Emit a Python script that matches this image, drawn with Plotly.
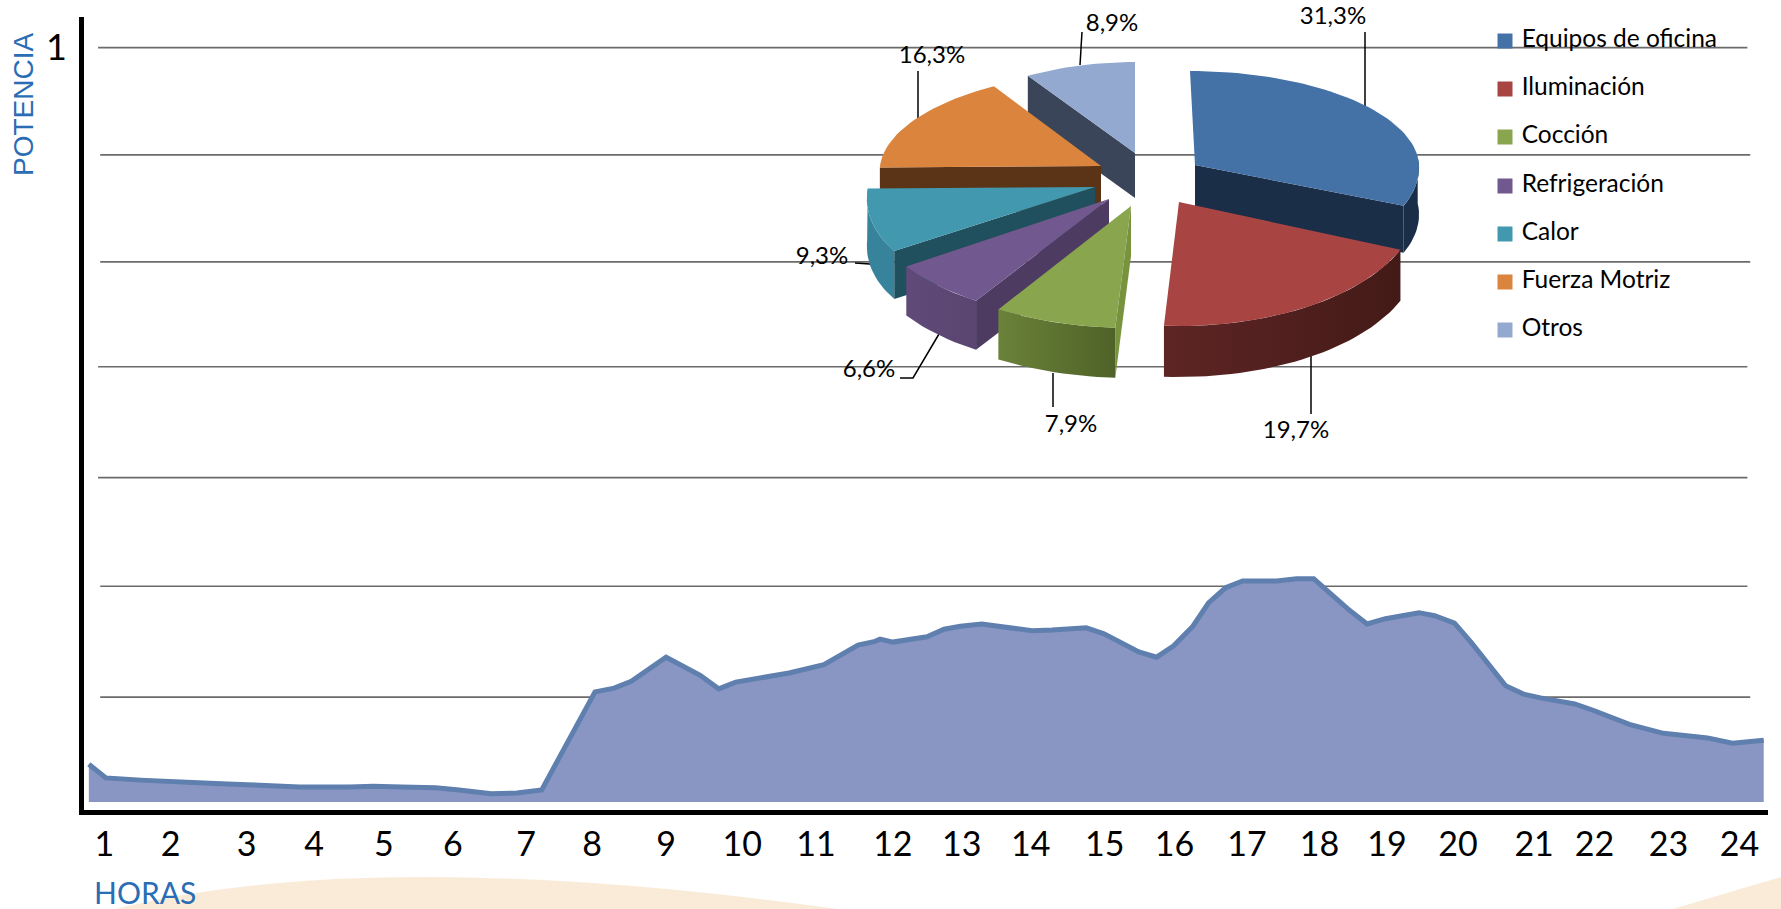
import math
import plotly.graph_objects as go

# ---------- data ----------
pie_names = ["Equipos de oficina", "Iluminación", "Cocción", "Refrigeración", "Calor", "Fuerza Motriz", "Otros"]
pie_values = [31.3, 19.7, 7.9, 6.6, 9.3, 16.3, 8.9]

hours = [0.78, 1.02, 1.51, 1.86, 2.48, 3.00, 3.74, 4.45, 4.78, 5.18, 5.66, 5.99, 6.44, 6.80, 7.15,
         7.90, 8.17, 8.41, 8.90, 9.38, 9.64, 9.88, 10.11, 10.35, 10.63, 11.12, 11.40, 11.60, 11.84,
         11.91, 12.09, 12.31, 12.57, 12.81, 13.04, 13.34, 13.81, 14.05, 14.33, 14.81, 15.06, 15.27,
         15.55, 15.80, 16.04, 16.31, 16.53, 16.77, 17.01, 17.24, 17.49, 17.77, 18.01, 18.25, 18.49,
         18.76, 19.02, 19.49, 19.71, 19.99, 20.23, 20.71, 20.96, 21.20, 21.44, 21.68, 21.93, 22.45,
         22.93, 23.55, 23.90, 24.34]
power = [.050, .032, .029, .027, .025, .023, .020, .020, .021, .020, .019, .016, .011, .012, .016,
         .146, .151, .160, .192, .168, .150, .159, .163, .167, .171, .182, .198, .208, .213,
         .216, .212, .215, .219, .229, .233, .236, .231, .227, .228, .231, .223, .213,
         .199, .192, .207, .233, .264, .284, .293, .293, .293, .296, .296, .276, .256,
         .236, .243, .251, .247, .237, .211, .154, .143, .138, .134, .130, .122, .103,
         .091, .085, .078, .082]

hour_labels = [str(h) for h in range(1, 25)]
hour_label_pos = [1.00, 1.93, 3.00, 3.95, 4.93, 5.90, 6.93, 7.86, 8.90, 9.97, 11.01, 12.09,
                  13.06, 14.03, 15.07, 16.05, 17.07, 18.09, 19.04, 20.04, 21.11, 21.96, 23.00, 24.00]
grid_levels = [1.0, .858, .716, .577, .430, .286, .139]
grid_start = [.91, .94, .94, .91, .91, .94, .94]
grid_end = [24.11, 24.15, 24.15, 24.11, 24.11, 24.11, 24.15]

# ---------- styles and geometry ----------
W, H = 1781, 909
top_colors = ["#4471a6", "#a84543", "#89a54e", "#71588f", "#4198af", "#db843d", "#93a9cf"]
apex = [(1195, 165), (1179, 202), (1131, 206), (1109, 199), (1095, 187), (1101, 166), (1135, 153)]
semi_a = [224, 240, 250, 241, 227, 221, 202]
semi_up = [94, 94, 94, 94, 94, 94, 91]
semi_down = [106, 124, 122, 120, 114, 120, 120]
skew = [-5, 0, 0, 6, 23, 12, 0]
depth = [47, 51, 50, 49, 48, 45, 45]
LATO = "Lato"
BLUE_TEXT = "#2a6db5"

cum = [0]
for v in pie_values:
    cum.append(cum[-1] + v)
angles = [c * 3.6 for c in cum]


def pt(i, deg):
    t = math.radians(deg)
    c = math.cos(t)
    return (apex[i][0] + semi_a[i] * math.sin(t) + skew[i] * c,
            apex[i][1] - (semi_up[i] if c > 0 else semi_down[i]) * c)


def arc(i, d0, d1):
    n = max(2, int(abs(d1 - d0) / 2))
    return [pt(i, d0 + (d1 - d0) * k / n) for k in range(n + 1)]


def poly(points, color=None, grad=None):
    xs = [p[0] for p in points] + [points[0][0]]
    ys = [p[1] for p in points] + [points[0][1]]
    kw = dict(fillgradient=dict(type="horizontal", colorscale=[[0, grad[0]], [1, grad[1]]])) if grad else dict(fillcolor=color)
    return go.Scatter(x=xs, y=ys, xaxis="x2", yaxis="y2", mode="lines", fill="toself",
                      line=dict(width=0, color="rgba(0,0,0,0)"), hoverinfo="skip", showlegend=False, **kw)


def radial_face(i, deg, color):
    p = pt(i, deg)
    d = depth[i]
    a = apex[i]
    return poly([a, p, (p[0], p[1] + d), (a[0], a[1] + d)], color)


def outer_wall(i, d0, d1, grad):
    top = arc(i, d0, d1)
    bottom = [(x, y + depth[i]) for x, y in reversed(top)]
    return poly(top + bottom, grad=grad)


def top_face(i):
    return poly([apex[i]] + arc(i, angles[i], angles[i + 1]), top_colors[i])


fig = go.Figure()

# grid lines
gx, gy = [], []
for lv, s, e in zip(grid_levels, grid_start, grid_end):
    gx += [s, e, None]
    gy += [lv, lv, None]
fig.add_trace(go.Scatter(x=gx, y=gy, mode="lines", line=dict(color="#6b6b6b", width=1.7),
                         hoverinfo="skip", showlegend=False))

# area
fig.add_trace(go.Scatter(x=hours, y=power, mode="lines", fill="tozeroy", fillcolor="#8995c3",
                         line=dict(color="#5f7fae", width=5), showlegend=False, name="Potencia"))

# leader lines
lead_x = [1365, 1365, None, 1082, 1080, None, 918, 918, None, 855, 870, 877, None, 900, 913, 939, None, 1053, 1053, None, 1311, 1311]
lead_y = [32, 109, None, 32, 65, None, 71, 119, None, 263, 264, 268, None, 378, 378, 334, None, 373, 407, None, 355, 414]
fig.add_trace(go.Scatter(x=lead_x, y=lead_y, xaxis="x2", yaxis="y2", mode="lines",
                         line=dict(color="#000000", width=1.5), hoverinfo="skip", showlegend=False))

# exploded 3-D pie (projected from the values), back to front
fig.add_trace(radial_face(6, angles[6], "#3b455a"))
fig.add_trace(top_face(6))
fig.add_trace(outer_wall(0, 85, angles[1], ("#1b2e48", "#1b2e48")))
fig.add_trace(radial_face(0, angles[1], "#1b2e48"))
fig.add_trace(top_face(0))
fig.add_trace(radial_face(5, angles[5], "#5b3417"))
fig.add_trace(top_face(5))
fig.add_trace(outer_wall(4, angles[4], angles[5], ("#37839b", "#37839b")))
fig.add_trace(radial_face(4, angles[4], "#204f5d"))
fig.add_trace(top_face(4))
fig.add_trace(outer_wall(3, angles[3], angles[4], ("#604a78", "#5a4470")))
fig.add_trace(radial_face(3, angles[3], "#4d3b62"))
fig.add_trace(top_face(3))
fig.add_trace(radial_face(2, angles[2], "#78933e"))
fig.add_trace(outer_wall(2, angles[2], angles[3], ("#6a8239", "#4f6228")))
fig.add_trace(top_face(2))
fig.add_trace(outer_wall(1, angles[1], angles[2], ("#5e2525", "#431a17")))
fig.add_trace(top_face(1))

# percent labels
label_x = [1333, 1296, 1071, 869, 822, 932, 1112]
label_y = [18, 432, 426, 371, 258, 57, 25]
fig.add_trace(go.Scatter(x=label_x, y=label_y, xaxis="x2", yaxis="y2", mode="text",
                         text=[f"{v:.1f}%".replace(".", ",") for v in pie_values],
                         textfont=dict(family=LATO, size=24, color="#000000"),
                         textposition="middle center", hoverinfo="skip", showlegend=False))

# legend
legend_x = [1505] * 7
legend_y = [41, 89, 137, 186, 234, 282, 330]
fig.add_trace(go.Scatter(x=legend_x, y=legend_y, xaxis="x2", yaxis="y2", mode="markers+text",
                         marker=dict(symbol="square", size=15, color=top_colors, line=dict(width=0)),
                         text=[" " + n for n in pie_names], textposition="middle right",
                         textfont=dict(family=LATO, size=24.5, color="#000000"),
                         hoverinfo="skip", showlegend=False))

fig.update_layout(
    width=W, height=H, margin=dict(l=0, r=0, t=0, b=0), paper_bgcolor="rgba(0,0,0,0)", plot_bgcolor="rgba(0,0,0,0)",
    showlegend=False,
    xaxis=dict(domain=[84 / W, 1768 / W], range=[0.712, 24.40], tickmode="array",
               tickvals=hour_label_pos, ticktext=hour_labels, showgrid=False, zeroline=False,
               showline=True, linecolor="#000000", linewidth=5, ticks="",
               tickfont=dict(family=LATO, size=34, color="#000000")),
    yaxis=dict(domain=[(H - 810) / H, (H - 17) / H], range=[-0.0106, 1.0407], tickmode="array",
               tickvals=[1], ticktext=["1"], showgrid=False, zeroline=False,
               showline=True, linecolor="#000000", linewidth=5, ticks="outside", ticklen=5,
               tickcolor="rgba(0,0,0,0)", tickfont=dict(family=LATO, size=36, color="#000000")),
    xaxis2=dict(domain=[0, 1], range=[0, W], visible=False, anchor="y2"),
    yaxis2=dict(domain=[0, 1], range=[H, 0], visible=False, anchor="x2"),
    shapes=[
        dict(type="path", xref="x2", yref="y2", layer="below", line=dict(width=0), fillcolor="#faebd9",
             path=f"M115,{H} Q375,845 838,{H} Z"),
        dict(type="path", xref="x2", yref="y2", layer="below", line=dict(width=0), fillcolor="#faebd9",
             path=f"M1673,{H} L1781,877 L1781,{H} Z"),
    ],
    annotations=[
        dict(text="POTENCIA", xref="x2", yref="y2", x=23, y=105, showarrow=False, textangle=-90,
             font=dict(family="Liberation Sans", size=28, color=BLUE_TEXT)),
        dict(text="HORAS", xref="x2", yref="y2", x=145, y=892, showarrow=False,
             font=dict(family=LATO, size=30, color=BLUE_TEXT)),
    ],
)

fig.write_html("out.html", config=dict(displayModeBar=False),
               post_script="document.body.style.margin='0';document.documentElement.style.overflow='hidden';")
